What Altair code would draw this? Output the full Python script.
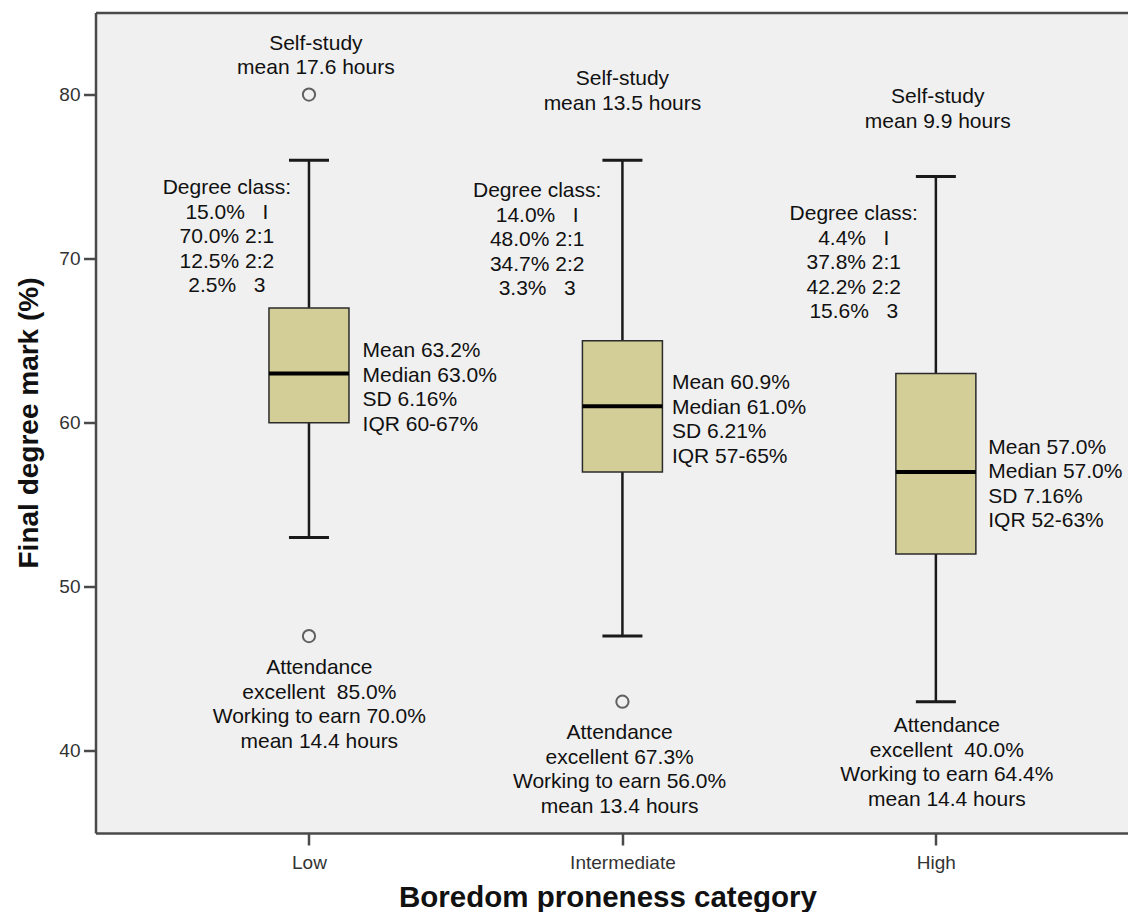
import altair as alt
import pandas as pd

# ---------------- data ----------------
categories = ["Low", "Intermediate", "High"]
group_index = [0, 1, 2]
whisker_low = [53, 47, 43]
q1 = [60, 57, 52]
median = [63, 61, 57]
q3 = [67, 65, 63]
whisker_high = [76, 76, 75]

outlier_group = [0, 0, 1]
outlier_value = [80, 47, 43]

NB = "\u00a0"
self_study_text = [
    "Self-study\nmean 17.6 hours",
    "Self-study\nmean 13.5 hours",
    "Self-study\nmean 9.9 hours",
]
degree_text = [
    "Degree class:\n15.0%" + NB * 3 + "I\n70.0% 2:1\n12.5% 2:2\n2.5%" + NB * 3 + "3",
    "Degree class:\n14.0%" + NB * 3 + "I\n48.0% 2:1\n34.7% 2:2\n3.3%" + NB * 3 + "3",
    "Degree class:\n4.4%" + NB * 3 + "I\n37.8% 2:1\n42.2% 2:2\n15.6%" + NB * 3 + "3",
]
stats_text = [
    "Mean 63.2%\nMedian 63.0%\nSD 6.16%\nIQR 60-67%",
    "Mean 60.9%\nMedian 61.0%\nSD 6.21%\nIQR 57-65%",
    "Mean 57.0%\nMedian 57.0%\nSD 7.16%\nIQR 52-63%",
]
attendance_text = [
    "Attendance\nexcellent" + NB + " 85.0%\nWorking to earn 70.0%\nmean 14.4 hours",
    "Attendance\nexcellent 67.3%\nWorking to earn 56.0%\nmean 13.4 hours",
    "Attendance\nexcellent" + NB + " 40.0%\nWorking to earn 64.4%\nmean 14.4 hours",
]

# annotation anchors: first line of each block (category units on x, percent on y)
self_study_x = [0.022, 1.0, 2.006]
self_study_y = [83.1, 80.95, 79.85]
degree_x = [-0.262, 0.728, 1.738]
degree_y = [74.3, 74.12, 72.72]
stats_x = [0.171, 1.158, 2.167]
stats_y = [64.37, 62.42, 58.48]
attendance_x = [0.033, 0.991, 2.035]
attendance_y = [45.05, 41.09, 41.51]

y_ticks = [40, 50, 60, 70, 80]

# ---------------- tables ----------------
box_df = pd.DataFrame({
    "category": categories, "g": group_index, "lo": whisker_low,
    "q1": q1, "med": median, "q3": q3, "hi": whisker_high,
})
out_df = pd.DataFrame({"g": outlier_group, "v": outlier_value})
ann_center = pd.DataFrame({
    "x": self_study_x + degree_x + attendance_x,
    "y": self_study_y + degree_y + attendance_y,
    "t": self_study_text + degree_text + attendance_text,
})
ann_left = pd.DataFrame({"x": stats_x, "y": stats_y, "t": stats_text})

FONT = "Liberation Sans"
AX = "#4a4a4a"

xscale = alt.Scale(domain=[-0.6651, 2.597], nice=False, zero=False)
yscale = alt.Scale(domain=[35, 85], nice=False, zero=False)

label_expr = "[" + ",".join("'%s'" % c for c in categories) + "][datum.value]"
x_bottom = alt.Axis(
    title="Boredom proneness category", values=group_index, labelExpr=label_expr,
    orient="bottom", labelBaseline="alphabetic", labelPadding=23,
    titleBaseline="alphabetic", titleY=73, titleX=512, titleFontSize=29.5,
)
x_top = alt.Axis(orient="top", labels=False, ticks=False, title=None, domain=True)
y_axis = alt.Axis(
    title="Final degree mark (%)", values=y_ticks, labelPadding=3.5,
    titleAngle=270, titleX=-58, titleY=410, titleBaseline="alphabetic",
    titleAlign="center", titleFontSize=28,
)


def X(field, axis=None):
    return alt.X(f"{field}:Q", scale=xscale, axis=axis)


def Y(field):
    return alt.Y(f"{field}:Q", scale=yscale, axis=y_axis)


base = alt.Chart(box_df)

lower = base.mark_rule(color="#1a1a1a", strokeWidth=2.5).encode(
    x=X("g", x_bottom), y=Y("lo"), y2=alt.Y2("q1"))
upper = base.mark_rule(color="#1a1a1a", strokeWidth=2.5).encode(
    x=X("g"), y=Y("q3"), y2=alt.Y2("hi"))
cap_lo = base.mark_tick(orient="horizontal", size=40, thickness=3, color="#1a1a1a", opacity=1).encode(
    x=X("g"), y=Y("lo"))
cap_hi = base.mark_tick(orient="horizontal", size=40, thickness=3, color="#1a1a1a", opacity=1).encode(
    x=X("g"), y=Y("hi"))
box = base.mark_bar(size=80, fill="#d3ce97", stroke="#2b2b2b", strokeWidth=1.5).encode(
    x=X("g"), y=Y("q1"), y2=alt.Y2("q3"))
med = base.mark_tick(orient="horizontal", size=80, thickness=4, color="#000000", opacity=1).encode(
    x=X("g"), y=Y("med"))

outliers = alt.Chart(out_df).mark_point(
    shape="circle", filled=False, size=150, strokeWidth=2, color="#606060", opacity=1
).encode(x=X("g", x_top), y=Y("v"))

txt_c = alt.Chart(ann_center).mark_text(
    font=FONT, fontSize=21, color="#111111", align="center", baseline="middle",
    lineBreak="\n", lineHeight=24.6,
).encode(x=X("x"), y=Y("y"), text="t:N")
txt_l = alt.Chart(ann_left).mark_text(
    font=FONT, fontSize=21, color="#111111", align="left", baseline="middle",
    lineBreak="\n", lineHeight=24.6,
).encode(x=X("x"), y=Y("y"), text="t:N")

chart = (
    alt.layer(lower, upper, cap_lo, cap_hi, box, med, outliers, txt_c, txt_l)
    .resolve_axis(x="independent")
    .properties(
        width=1032.5, height=820.5, autosize=alt.AutoSizeParams(type="none"),
        padding={"left": 87.5, "top": 4.5, "right": 0, "bottom": 79},
        background="white",
    )
    .configure_view(stroke=None, fill="#f0f0f0")
    .configure_axis(
        grid=False, domainColor=AX, domainWidth=2.5, tickColor=AX, tickWidth=2.5,
        tickSize=12, labelFont=FONT, labelFontSize=19, labelColor="#333333",
        titleFont=FONT, titleFontWeight="bold", titleColor="#111111",
    )
    .configure_axisBottom(titleLimit=0)
)

chart.save("out.html", embed_options={"renderer": "svg", "actions": False})
